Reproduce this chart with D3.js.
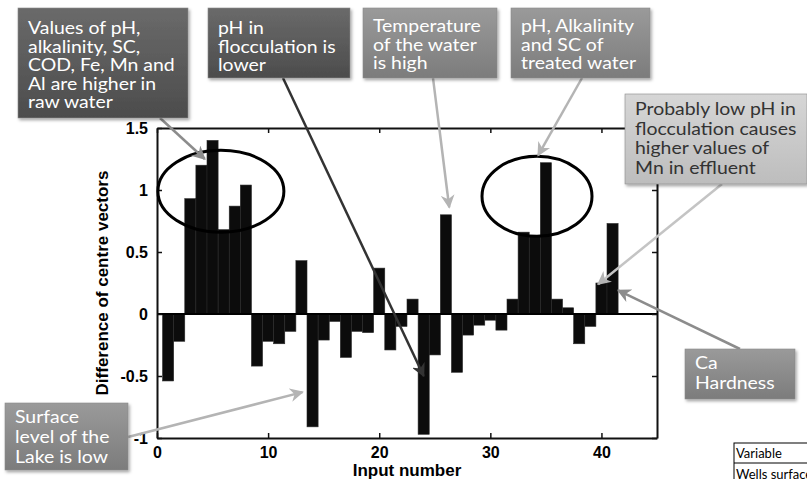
<!DOCTYPE html>
<html>
<head>
<meta charset="utf-8">
<script src="https://cdn.jsdelivr.net/npm/d3@7"></script>
<style>
  body { margin: 0; background: #fff; }
  svg { display: block; }
  .axis text { font-family: "Liberation Sans", Arial, sans-serif; font-weight: bold; font-size: 16px; fill: #000; }
  .note { font-family: Lato, "Open Sans", sans-serif; font-size: 18px; }
</style>
</head>
<body>
<div id="chart"></div>
<script>
// input numbers and the difference of centre vectors
var inputs = d3.range(1, 42);
var diffs = [-0.54, -0.22, 0.93, 1.20, 1.40, 0.68, 0.87, 1.04, -0.42, -0.22,
             -0.24, -0.14, 0.43, -0.91, -0.21, -0.06, -0.35, -0.14, -0.15, 0.37,
             -0.29, -0.10, 0.12, -0.97, -0.33, 0.80, -0.47, -0.17, -0.09, -0.05,
             -0.13, 0.12, 0.66, 0.63, 1.22, 0.12, 0.05, -0.24, -0.10, 0.25, 0.73];
var xTicks = [0, 10, 20, 30, 40];
var yTicks = [-1, -0.5, 0, 0.5, 1, 1.5];

// annotation texts
var noteRaw     = ['Values of pH,', 'alkalinity, SC,', 'COD, Fe, Mn and', 'Al are higher in', 'raw water'];
var noteFloc    = ['pH in', 'flocculation is', 'lower'];
var noteTemp    = ['Temperature', 'of the water', 'is high'];
var noteTreated = ['pH, Alkalinity', 'and SC of', 'treated water'];
var noteMn      = ['Probably low pH  in', 'flocculation causes', 'higher values of', 'Mn in effluent'];
var noteCa      = ['Ca', 'Hardness'];
var noteLake    = ['Surface', 'level of the', 'Lake is low'];
var tableRows   = ['Variable', 'Wells  surface'];

(function() {
  var W = 807, H = 479;
  var mLeft = 157, mRight = 657, mTop = 128, mBottom = 438;
  var stretch = 1.08;   // callout font is wider than Lato

  var svg = d3.select('#chart').append('svg')
      .attr('width', W).attr('height', H);

  var defs = svg.append('defs');
  defs.append('filter').attr('id', 'shadow')
      .attr('x', '-10%').attr('y', '-10%').attr('width', '130%').attr('height', '140%')
    .append('feDropShadow')
      .attr('dx', 1.5).attr('dy', 2).attr('stdDeviation', 1.5)
      .attr('flood-color', '#000').attr('flood-opacity', 0.35);

  var grad = function(id, c1, c2) {
    var g = defs.append('linearGradient').attr('id', id)
        .attr('x1', 0).attr('y1', 0).attr('x2', 0).attr('y2', 1);
    g.append('stop').attr('offset', '0%').attr('stop-color', c1);
    g.append('stop').attr('offset', '100%').attr('stop-color', c2);
  };
  grad('gDark', '#6a6a6a', '#4c4c4c');
  grad('gMid', '#9a9a9a', '#7c7c7c');
  grad('gLight', '#d6d6d6', '#bdbdbd');

  var arrowHead = function(id, color) {
    defs.append('marker').attr('id', id)
        .attr('viewBox', '0 0 10 10').attr('refX', 9).attr('refY', 5)
        .attr('markerWidth', 5.5).attr('markerHeight', 5.5)
        .attr('markerUnits', 'strokeWidth').attr('orient', 'auto')
      .append('path').attr('d', 'M0,0 L10,5 L0,10 L3,5 Z').attr('fill', color);
  };
  arrowHead('aDark', '#333');
  arrowHead('aGrey', '#8c8c8c');
  arrowHead('aLight', '#b4b4b4');

  var x = d3.scaleLinear().domain([0, 45]).range([mLeft, mRight]);
  var y = d3.scaleLinear().domain([-1, 1.5]).range([mBottom, mTop]);

  // bars
  svg.append('g').selectAll('rect').data(inputs).enter().append('rect')
      .attr('x', function(d) { return x(d - 0.5); })
      .attr('width', function(d) { return x(d + 0.5) - x(d - 0.5); })
      .attr('y', function(d, i) { return Math.min(y(diffs[i]), y(0)); })
      .attr('height', function(d, i) { return Math.abs(y(diffs[i]) - y(0)); })
      .attr('fill', '#0c0c0c')
      .attr('stroke', '#2a2a2a').attr('stroke-width', 0.6);

  // baseline
  svg.append('line')
      .attr('x1', x(0)).attr('x2', x(45)).attr('y1', y(0)).attr('y2', y(0))
      .attr('stroke', '#000').attr('stroke-width', 2);

  // axes (ticks inside, mirrored on top/right like matlab)
  var ax = function(gen, tr) {
    var g = svg.append('g').attr('class', 'axis').attr('transform', tr).call(gen);
    g.select('.domain').attr('stroke', '#111').attr('stroke-width', 2);
    g.selectAll('.tick line').attr('stroke', '#111').attr('stroke-width', 1.5);
    return g;
  };
  ax(d3.axisBottom(x).tickValues(xTicks).tickSizeInner(-5).tickSizeOuter(0).tickPadding(9),
     'translate(0,' + mBottom + ')');
  ax(d3.axisTop(x).tickValues(xTicks).tickSizeInner(-5).tickSizeOuter(0).tickFormat(''),
     'translate(0,' + mTop + ')');
  ax(d3.axisLeft(y).tickValues(yTicks).tickSizeInner(-5).tickSizeOuter(0).tickPadding(9)
       .tickFormat(function(d) { return String(d); }),
     'translate(' + mLeft + ',0)');
  ax(d3.axisRight(y).tickValues(yTicks).tickSizeInner(-5).tickSizeOuter(0).tickFormat(''),
     'translate(' + mRight + ',0)');

  svg.append('text')
      .attr('x', (mLeft + mRight) / 2).attr('y', 476)
      .attr('text-anchor', 'middle')
      .style('font-family', '"Liberation Sans", Arial, sans-serif')
      .style('font-weight', 'bold').style('font-size', '17px')
      .text('Input number');

  svg.append('text')
      .attr('transform', 'translate(108,' + (mTop + mBottom) / 2 + ') rotate(-90)')
      .attr('text-anchor', 'middle')
      .style('font-family', '"Liberation Sans", Arial, sans-serif')
      .style('font-weight', 'bold').style('font-size', '17px')
      .text('Difference of centre vectors');

  // ellipses around the groups of high inputs
  var ellipse = function(cx, cy, rx, ry) {
    svg.append('ellipse')
        .attr('cx', x(cx)).attr('cy', y(cy)).attr('rx', rx).attr('ry', ry)
        .attr('fill', 'none').attr('stroke', '#000').attr('stroke-width', 3);
  };
  ellipse(5.75, 0.99, 63, 41);
  ellipse(34.2, 0.95, 55, 40);

  // call-out boxes with arrows
  var callout = function(lines, box, fill, color, from, to, lineColor, head, lh, y0) {
    svg.append('line')
        .attr('x1', from[0]).attr('y1', from[1])
        .attr('x2', x(to[0])).attr('y2', y(to[1]))
        .attr('stroke', lineColor).attr('stroke-width', 2.5)
        .attr('marker-end', 'url(#' + head + ')');
    var g = svg.append('g');
    g.append('rect')
        .attr('x', box[0]).attr('y', box[1]).attr('width', box[2]).attr('height', box[3])
        .attr('fill', fill).attr('stroke', '#8a8a8a').attr('stroke-width', 0.6)
        .attr('filter', 'url(#shadow)');
    g.selectAll('text').data(lines).enter().append('text')
        .attr('class', 'note')
        .attr('transform', function(d, i) {
          return 'translate(' + (box[0] + 10) + ',' + (box[1] + y0 + i * lh) + ') scale(' + stretch + ',1)';
        })
        .attr('fill', color)
        .text(function(d) { return d; });
  };

  callout(noteRaw, [18, 8, 170, 110], 'url(#gDark)', '#fff',
          [160, 118], [4.3, 1.25], '#8c8c8c', 'aGrey', 18.6, 26);
  callout(noteFloc, [208, 8, 142, 70], 'url(#gDark)', '#fff',
          [283, 78], [24.0, -0.5], '#333', 'aDark', 18.6, 26);
  callout(noteTemp, [363, 8, 134, 70], 'url(#gMid)', '#fff',
          [433, 78], [26.3, 0.86], '#b4b4b4', 'aLight', 18.6, 24);
  callout(noteTreated, [511, 8, 139, 70], 'url(#gMid)', '#fff',
          [582, 78], [34.3, 1.28], '#b4b4b4', 'aLight', 18.6, 24);
  callout(noteMn, [625, 94, 182, 90], 'url(#gLight)', '#333',
          [722, 184], [39.7, 0.24], '#c4c4c4', 'aLight', 19.5, 21);
  callout(noteCa, [685, 349, 110, 50], 'url(#gMid)', '#fff',
          [740, 349], [41.5, 0.19], '#8c8c8c', 'aGrey', 20, 20);
  callout(noteLake, [5, 403, 123, 67], 'url(#gMid)', '#fff',
          [128, 437], [13.1, -0.63], '#b4b4b4', 'aLight', 20, 20);

  // fragment of a table at the bottom right
  var tbl = svg.append('g');
  tbl.append('rect').attr('x', 734).attr('y', 443).attr('width', 80).attr('height', 50)
      .attr('fill', '#fff').attr('stroke', '#000').attr('stroke-width', 1);
  tbl.append('line').attr('x1', 734).attr('x2', 807).attr('y1', 463).attr('y2', 463)
      .attr('stroke', '#000').attr('stroke-width', 1);
  tbl.selectAll('text.row').data(tableRows).enter().append('text')
      .attr('class', 'row')
      .attr('x', 736).attr('y', function(d, i) { return 458 + i * 21; })
      .style('font-family', 'Lato, sans-serif').style('font-size', '13px')
      .text(function(d) { return d; });
})();
</script>
</body>
</html>
